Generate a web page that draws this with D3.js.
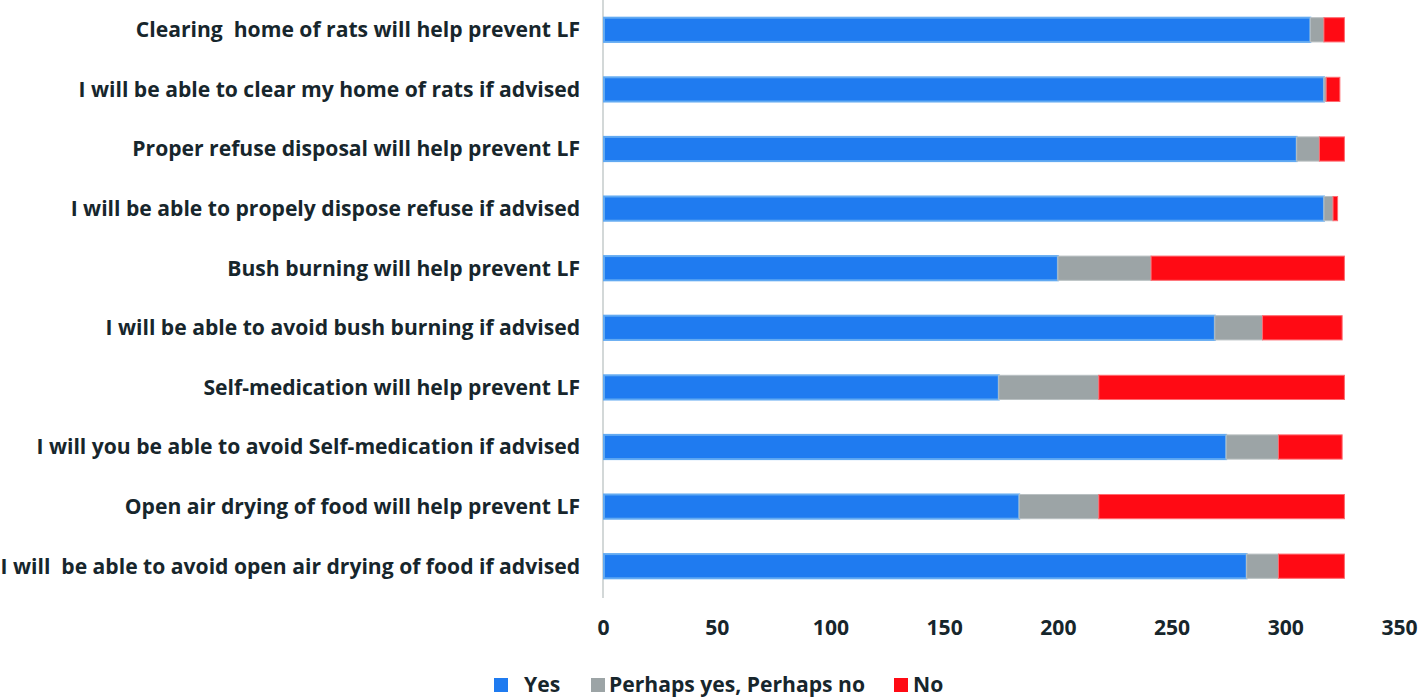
<!DOCTYPE html>
<html><head><meta charset="utf-8">
<script src="https://cdn.jsdelivr.net/npm/d3@7"></script>
<style>body{margin:0;background:#fff;} text{font-family:"Open Sans",Lato,sans-serif;font-weight:bold;fill:#17262c;white-space:pre;}</style>
</head><body><svg id="c" width="1418" height="697"></svg>
<script>
const categories = [
  "Clearing  home of rats will help prevent LF",
  "I will be able to clear my home of rats if advised",
  "Proper refuse disposal will help prevent LF",
  "I will be able to propely dispose refuse if advised",
  "Bush burning will help prevent LF",
  "I will be able to avoid bush burning if advised",
  "Self-medication will help prevent LF",
  "I will you be able to avoid Self-medication if advised",
  "Open air drying of food will help prevent LF",
  "I will  be able to avoid open air drying of food if advised"
];
const yesValues     = [311, 317, 305, 317, 200, 269, 174, 274, 183, 283];
const perhapsValues = [6,   1,   10,  4,   41,  21,  44,  23,  35,  14];
const noValues      = [9,   6,   11,  2,   85,  35,  108, 28,  108, 29];
const seriesNames = ["Yes", "Perhaps yes, Perhaps no", "No"];
const xTicks = [0, 50, 100, 150, 200, 250, 300, 350];

const colors = {"Yes":"#1f7bf0", "Perhaps yes, Perhaps no":"#9ca4a6", "No":"#ff0a14"};
const strokes = {"Yes":"#62aaf2", "Perhaps yes, Perhaps no":"#b9c0c2", "No":"#ff6a70"};

const svg = d3.select("#c");
const x = d3.scaleLinear().domain([0, 350]).range([603, 1399]);
const y = d3.scaleBand().domain(categories).range([0, 596]).paddingInner(0.56).paddingOuter(0.28);

const rows = categories.map((c, i) => ({cat: c, "Yes": yesValues[i], "Perhaps yes, Perhaps no": perhapsValues[i], "No": noValues[i]}));
const stacked = d3.stack().keys(seriesNames)(rows);

svg.append("line").attr("x1", x(0)).attr("x2", x(0)).attr("y1", 0).attr("y2", 598)
  .attr("stroke", "#d3d8d8").attr("stroke-width", 2);

stacked.forEach(s => {
  const key = s.key;
  svg.append("g").selectAll("rect").data(s).join("rect")
    .attr("x", d => x(d[0]) + (key === "Yes" ? 1 : 0))
    .attr("y", d => y(d.data.cat) + 1)
    .attr("width", d => Math.max(0, x(d[1]) - x(d[0]) - (key === "Yes" ? 1 : 0)))
    .attr("height", y.bandwidth() - 2)
    .attr("fill", colors[key])
    .attr("stroke", strokes[key])
    .attr("stroke-width", key === "Yes" ? 2 : 1);
});

// category labels, sized so the longest label spans the left margin like the reference
const labels = svg.append("g").selectAll("text").data(categories).join("text")
  .attr("x", 580).attr("y", d => y(d) + y.bandwidth() / 2)
  .attr("dy", "0.35em").attr("text-anchor", "end")
  .style("font-size", "20px").text(d => d);
let maxW = 0;
labels.each(function(){ maxW = Math.max(maxW, this.getComputedTextLength()); });
const fs = 20 * 580 / maxW;
labels.style("font-size", fs + "px");

const xAxis = d3.axisBottom(x).tickValues(xTicks).tickSize(0).tickPadding(0);
const ax = svg.append("g").attr("transform", "translate(0,620)").call(xAxis);
ax.select(".domain").remove();
ax.selectAll("text").style("font-size", fs + "px").attr("fill", "#17262c").style("font-family", "\"Open Sans\",sans-serif");

const legendItems = [
  {name: "Yes", sx: 494, tx: 524},
  {name: "Perhaps yes, Perhaps no", sx: 591, tx: 609},
  {name: "No", sx: 894, tx: 913}
];
const lg = svg.append("g");
legendItems.forEach(it => {
  lg.append("rect").attr("x", it.sx).attr("y", 678).attr("width", 14).attr("height", 14)
    .attr("fill", colors[it.name]);
  lg.append("text").attr("x", it.tx).attr("y", 685).attr("dy", "0.35em")
    .style("font-size", fs + "px").text(it.name);
});
</script></body></html>
